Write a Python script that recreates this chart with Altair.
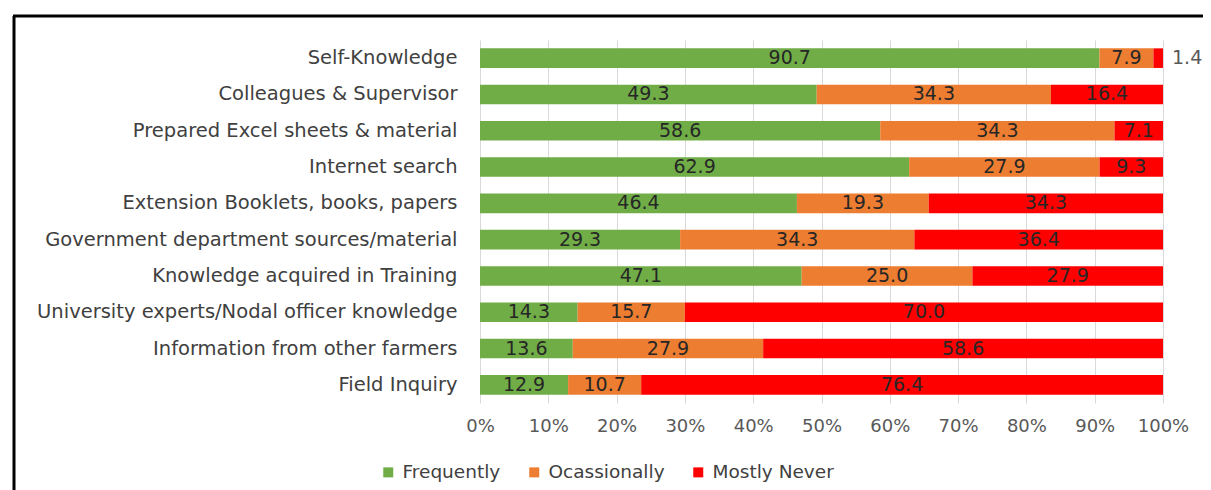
import altair as alt
import pandas as pd

sources = [
    "Self-Knowledge",
    "Colleagues & Supervisor",
    "Prepared Excel sheets & material",
    "Internet search",
    "Extension Booklets, books, papers",
    "Government department sources/material",
    "Knowledge acquired in Training",
    "University experts/Nodal officer knowledge",
    "Information from other farmers",
    "Field Inquiry",
]
frequently = [90.7, 49.3, 58.6, 62.9, 46.4, 29.3, 47.1, 14.3, 13.6, 12.9]
occasionally = [7.9, 34.3, 34.3, 27.9, 19.3, 34.3, 25.0, 15.7, 27.9, 10.7]
mostly_never = [1.4, 16.4, 7.1, 9.3, 34.3, 36.4, 27.9, 70.0, 58.6, 76.4]
series = ["Frequently", "Ocassionally", "Mostly Never"]
colors = ["#70AD47", "#ED7D31", "#FF0000"]
x_ticks = [0, 0.1, 0.2, 0.3, 0.4, 0.5, 0.6, 0.7, 0.8, 0.9, 1.0]

rows = []
for i, src in enumerate(sources):
    vals = [frequently[i], occasionally[i], mostly_never[i]]
    total = sum(vals)
    cum = 0.0
    for s, v in zip(series, vals):
        start = cum / total
        cum += v
        end = cum / total
        rows.append({"source": src, "series": s, "value": v,
                     "start": start, "end": end, "mid": (start + end) / 2})
df = pd.DataFrame(rows)

FONT = "DejaVu Sans"

y_enc = alt.Y("source:N", sort=sources,
              scale=alt.Scale(paddingInner=0.46, paddingOuter=0.23),
              axis=alt.Axis(title=None, ticks=False, domain=False, labelFontSize=19.5,
                            labelColor="#404040", labelPadding=23, labelLimit=500,
                            labelFont=FONT))
x_scale = alt.Scale(domain=[0, 1])

base = alt.Chart(df)

bars = base.mark_bar().encode(
    y=y_enc,
    x=alt.X("start:Q", scale=x_scale,
            axis=alt.Axis(title=None, format=".0%", values=x_ticks, domain=False,
                          ticks=False, grid=True, gridColor="#d9d9d9", labelFontSize=18,
                          labelColor="#595959", labelPadding=14, labelFont=FONT,
                          labelFlush=False, labelOverlap=False)),
    x2="end:Q",
    color=alt.Color("series:N", scale=alt.Scale(domain=series, range=colors),
                    legend=alt.Legend(title=None, orient="none", legendX=-101, legendY=423,
                                      direction="horizontal", symbolType="square",
                                      symbolSize=100, symbolStrokeWidth=0,
                                      labelFontSize=18.5, labelColor="#404040",
                                      labelFont=FONT, labelOffset=5, columnPadding=24,
                                      labelLimit=300)),
)

inside = base.transform_filter("datum.value >= 3").mark_text(
    fontSize=19, color="#262626", font=FONT
).encode(
    y=alt.Y("source:N", sort=sources),
    x=alt.X("mid:Q", scale=x_scale),
    text=alt.Text("value:Q", format=".1f"),
)

outside = base.transform_filter("datum.value < 3").mark_text(
    fontSize=19, color="#595959", align="left", dx=9, font=FONT
).encode(
    y=alt.Y("source:N", sort=sources),
    x=alt.X("end:Q", scale=x_scale),
    text=alt.Text("value:Q", format=".1f"),
)

frame_df = pd.DataFrame({"k": [0]})
left_line = alt.Chart(frame_df).mark_rule(color="black", strokeWidth=3).encode(
    x=alt.value(-466), y=alt.value(-24), y2=alt.value(480))
top_line = alt.Chart(frame_df).mark_rule(color="black", strokeWidth=3).encode(
    x=alt.value(-467), x2=alt.value(740), y=alt.value(-24))

chart = alt.layer(bars, inside, outside, left_line, top_line).properties(
    width=683, height=363,
    autosize=alt.AutoSizeParams(type="none"),
    padding={"left": 472, "top": 32, "right": 40, "bottom": 87},
).configure_view(stroke=None)

chart.save("out.html", embed_options={"renderer": "svg", "actions": False})
